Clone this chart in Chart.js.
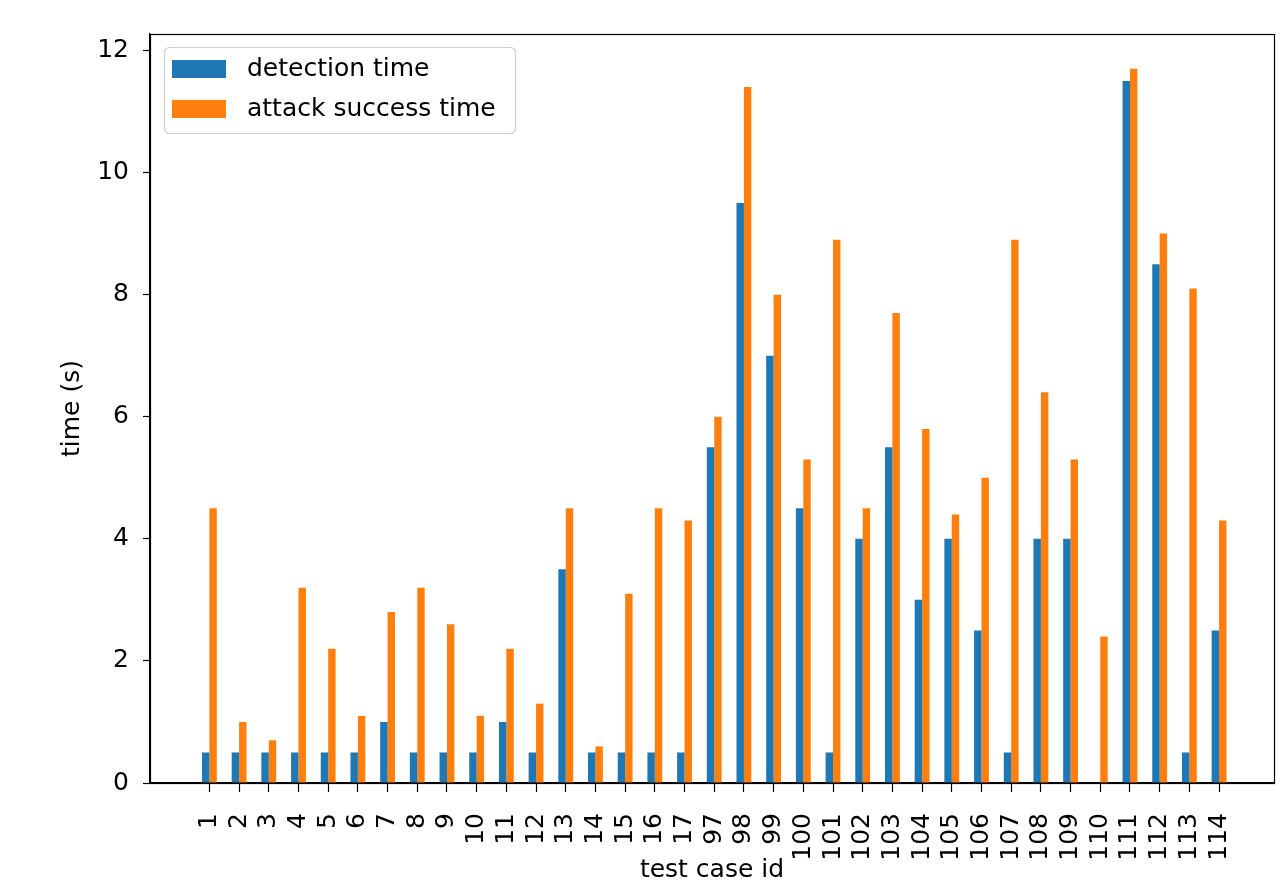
<!DOCTYPE html>
<html>
<head>
<meta charset="utf-8">
<title>detection time vs attack success time</title>
<script src="https://cdn.jsdelivr.net/npm/chart.js@4.4.1/dist/chart.umd.min.js"></script>
<style>
  html, body { margin: 0; padding: 0; background: #fff; }
  canvas { display: block; }
</style>
</head>
<body>
<canvas id="timeChart" width="1285" height="891"></canvas>
<script>
// x axis: test case ids
const testCaseIds = [
  "1", "2", "3", "4", "5", "6", "7", "8", "9", "10", "11", "12", "13", "14", "15", "16", "17",
  "97", "98", "99", "100", "101", "102", "103", "104", "105", "106", "107", "108", "109",
  "110", "111", "112", "113", "114",
];

// seconds
const detectionTime = [
  0.5, 0.5, 0.5, 0.5, 0.5, 0.5, 1.0, 0.5, 0.5, 0.5, 1.0, 0.5, 3.5, 0.5, 0.5, 0.5, 0.5,
  5.5, 9.5, 7.0, 4.5, 0.5, 4.0, 5.5, 3.0, 4.0, 2.5, 0.5, 4.0, 4.0, 0, 11.5, 8.5, 0.5, 2.5,
];
const attackSuccessTime = [
  4.5, 1.0, 0.7, 3.2, 2.2, 1.1, 2.8, 3.2, 2.6, 1.1, 2.2, 1.3, 4.5, 0.6, 3.1, 4.5, 4.3,
  6.0, 11.4, 8.0, 5.3, 8.9, 4.5, 7.7, 5.8, 4.4, 5.0, 8.9, 6.4, 5.3, 2.4, 11.7, 9.0, 8.1, 4.3,
];

const yTicks = [0, 2, 4, 6, 8, 10, 12];

const FONT = "'DejaVu Sans', 'Liberation Sans', sans-serif";
const BLUE = "#1f77b4";
const ORANGE = "#ff7f0e";

// box around the plot (matplotlib spines)
const framePlugin = {
  id: "frame",
  afterDatasetsDraw(chart) {
    const { ctx, chartArea: a } = chart;
    ctx.save();
    ctx.strokeStyle = "#000";
    ctx.lineWidth = 1.2;
    ctx.strokeRect(Math.round(a.left) + 0.5, Math.round(a.top) + 0.5,
      Math.round(a.right - a.left), Math.round(a.bottom - a.top));
    ctx.restore();
  },
};

// legend drawn inside the plot, upper left
const insideLegend = {
  id: "insideLegend",
  afterDraw(chart) {
    const { ctx, chartArea: a } = chart;
    const x = a.left + 14;
    const y = a.top + 13;
    ctx.save();
    ctx.fillStyle = "rgba(255,255,255,0.8)";
    ctx.strokeStyle = "#cccccc";
    ctx.lineWidth = 1.2;
    ctx.beginPath();
    ctx.roundRect(x + 0.5, y + 0.5, 351, 86, 5);
    ctx.fill();
    ctx.stroke();

    ctx.font = "25px " + FONT;
    ctx.textBaseline = "middle";
    ctx.textAlign = "left";
    chart.data.datasets.forEach((ds, i) => {
      const cy = a.top + 35 + i * 40;
      ctx.fillStyle = ds.backgroundColor;
      ctx.fillRect(a.left + 22, cy - 9, 54, 18);
      ctx.fillStyle = "#000";
      ctx.fillText(ds.label, a.left + 97, cy);
    });
    ctx.restore();
  },
};

const toPoints = (values) => values.map((v, i) => ({ x: i, y: v }));

const createTimeChart = () => {
  const ctx = document.getElementById("timeChart").getContext("2d");
  new Chart(ctx, {
    type: "bar",
    data: {
      datasets: [
        {
          label: "detection time",
          data: toPoints(detectionTime),
          backgroundColor: BLUE,
          categoryPercentage: 0.5,
          barPercentage: 1.0,
        },
        {
          label: "attack success time",
          data: toPoints(attackSuccessTime),
          backgroundColor: ORANGE,
          categoryPercentage: 0.5,
          barPercentage: 1.0,
        },
      ],
    },
    options: {
      responsive: false,
      animation: false,
      devicePixelRatio: 1,
      layout: { padding: { top: 34, right: 11, left: 0, bottom: 0 } },
      plugins: {
        legend: { display: false },
        tooltip: { enabled: false },
      },
      scales: {
        x: {
          type: "linear",
          min: -2.0,
          max: 35.85,
          offset: false,
          grid: {
            offset: false,
            drawOnChartArea: false,
            drawTicks: true,
            tickLength: 9,
            tickWidth: 1.2,
            tickColor: "#000",
          },
          border: { display: true, color: "#000", width: 1.2 },
          afterBuildTicks: (scale) => {
            scale.ticks = testCaseIds.map((_, i) => ({ value: i }));
          },
          afterFit: (scale) => {
            scale.height = 108;
          },
          ticks: {
            autoSkip: false,
            minRotation: 90,
            maxRotation: 90,
            padding: 21,
            color: "#000",
            font: { family: FONT, size: 25 },
            callback: (value) => testCaseIds[value],
          },
          title: {
            display: true,
            text: "test case id",
            color: "#000",
            font: { family: FONT, size: 25 },
            padding: { top: 0, bottom: 6 },
          },
        },
        y: {
          min: 0,
          max: 12.27,
          grid: {
            drawOnChartArea: false,
            drawTicks: true,
            tickLength: 7,
            tickWidth: 1.2,
            tickColor: "#000",
          },
          border: { display: true, color: "#000", width: 1.2 },
          afterBuildTicks: (scale) => {
            scale.ticks = yTicks.map((v) => ({ value: v }));
          },
          afterFit: (scale) => {
            scale.width = 150;
          },
          ticks: {
            padding: 14,
            color: "#000",
            font: { family: FONT, size: 25 },
          },
          title: {
            display: true,
            text: "time (s)",
            color: "#000",
            font: { family: FONT, size: 25 },
            padding: { top: 57, bottom: 0 },
          },
        },
      },
    },
    plugins: [framePlugin, insideLegend],
  });
};

document.addEventListener("DOMContentLoaded", createTimeChart);
</script>
</body>
</html>
